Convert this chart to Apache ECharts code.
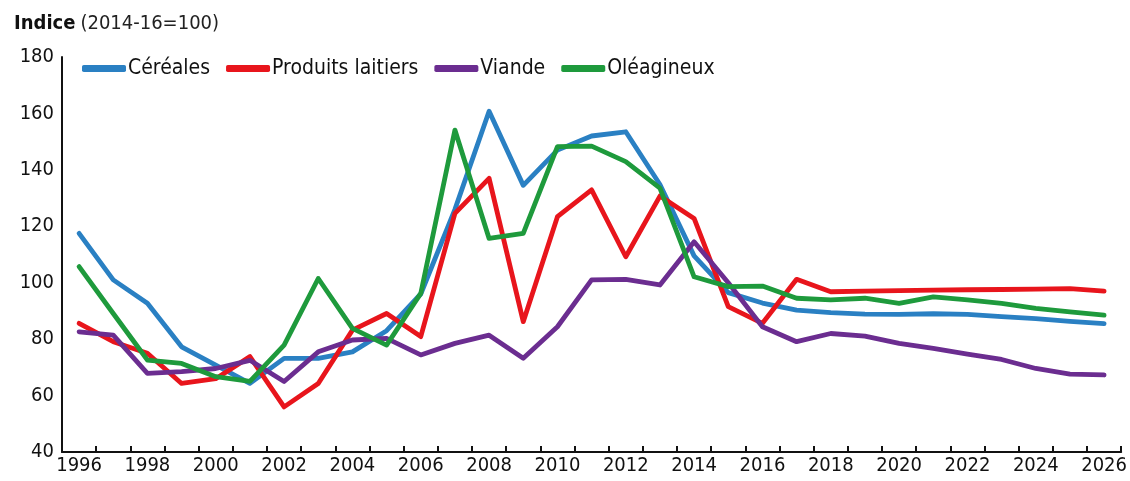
<!DOCTYPE html>
<html>
<head>
    <meta charset="utf-8">
    <title>Indice</title>
    <script src="https://cdn.jsdelivr.net/npm/echarts@6/dist/echarts.min.js"></script>
    <style>
        html, body { margin: 0; padding: 0; background: #fff; }
    </style>
</head>
<body>
    <div id="chart" style="width: 1130px;height:481px;"></div>
    <script type="text/javascript">
    // années (axe X)
    var years = [];
    for (var y = 1996; y <= 2026; y++) { years.push(String(y)); }

    // valeurs
    var cereales = [117.5, 101, 92.7, 77.3, 70.8, 64.3, 73.2, 73.2, 75.5, 83, 96, 126, 160.8, 134.5, 147, 152, 153.5, 134.8, 109.5, 96.5,
                    92.8, 90.3, 89.4, 88.9, 88.8, 89, 88.8, 88, 87.3, 86.3, 85.5];
    var laitiers = [85.6, 79.1, 75, 64.3, 66, 73.8, 56, 64.3, 83.2, 89.1, 80.9, 124.6, 137, 86.2, 123.4, 132.9, 109.2, 130.7, 122.8, 91.5,
                    85.6, 101.2, 96.8, 97, 97.2, 97.4, 97.5, 97.6, 97.7, 97.9, 97];
    var viande = [82.6, 81.4, 67.9, 68.5, 69.6, 72.5, 65, 75.5, 79.7, 80.3, 74.4, 78.5, 81.4, 73.2, 84.4, 101, 101.2, 99.2, 114.5, 100,
                  84.4, 79.1, 82, 81.1, 78.5, 76.7, 74.7, 72.8, 69.6, 67.6, 67.3];
    var oleagineux = [105.7, 89.1, 72.6, 71.4, 66.7, 65, 77.9, 101.5, 83.8, 77.9, 96.2, 154.1, 115.7, 117.5, 148.2, 148.4, 142.9, 133.5, 102.1, 98.6,
                      98.8, 94.5, 93.9, 94.5, 92.7, 95, 93.9, 92.7, 90.9, 89.7, 88.5];

    var names = ['Céréales', 'Produits laitiers', 'Viande', 'Oléagineux'];
    var couleurs = ['#2a80c3', '#e8151c', '#6b2d90', '#1e9a3c'];
    var donnees = [cereales, laitiers, viande, oleagineux];

    var police = '"DejaVu Sans Condensed", "Liberation Sans Narrow", "Liberation Sans", sans-serif';

    var series = [];
    for (var i = 0; i < names.length; i++) {
        series.push({
            name: names[i],
            type: 'line',
            data: donnees[i],
            symbol: 'none',
            smooth: false,
            lineStyle: { width: 4.8, color: couleurs[i], cap: 'round', join: 'round' },
            itemStyle: { color: couleurs[i] }
        });
    }

    var chart = echarts.init(document.getElementById('chart'));
    chart.setOption({
        animation: false,
        title: {
            text: '{b|Indice} {n|(2014-16=100)}',
            left: 9,
            top: 9,
            textStyle: {
                rich: {
                    b: { fontFamily: police, fontSize: 20, fontWeight: 'bold', color: '#111' },
                    n: { fontFamily: police, fontSize: 20, fontWeight: 'normal', color: '#222' }
                }
            }
        },
        legend: {
            data: names,
            left: 78,
            top: 56,
            itemWidth: 44,
            itemHeight: 7,
            itemGap: 16,
            icon: 'roundRect',
            backgroundColor: '#fff',
            padding: [2, 4],
            textStyle: { fontFamily: police, fontSize: 21, color: '#111', padding: [0, 0, 0, -3] }
        },
        grid: {
            left: 62,
            right: 8,
            top: 57,
            bottom: 29
        },
        xAxis: {
            type: 'category',
            data: years,
            boundaryGap: true,
            axisLine: { lineStyle: { color: '#111', width: 2 } },
            axisTick: { show: true, inside: true, length: 6, interval: 0, lineStyle: { color: '#111', width: 2 } },
            axisLabel: { interval: 1, fontFamily: police, fontSize: 20, color: '#111', margin: 4 },
            splitLine: { show: false }
        },
        yAxis: {
            type: 'value',
            min: 40,
            max: 180,
            interval: 20,
            axisLine: { show: true, lineStyle: { color: '#111', width: 2 } },
            axisTick: { show: false },
            axisLabel: { fontFamily: police, fontSize: 20, color: '#111', margin: 8 },
            splitLine: { show: false }
        },
        series: series
    });
    </script>
</body>
</html>
